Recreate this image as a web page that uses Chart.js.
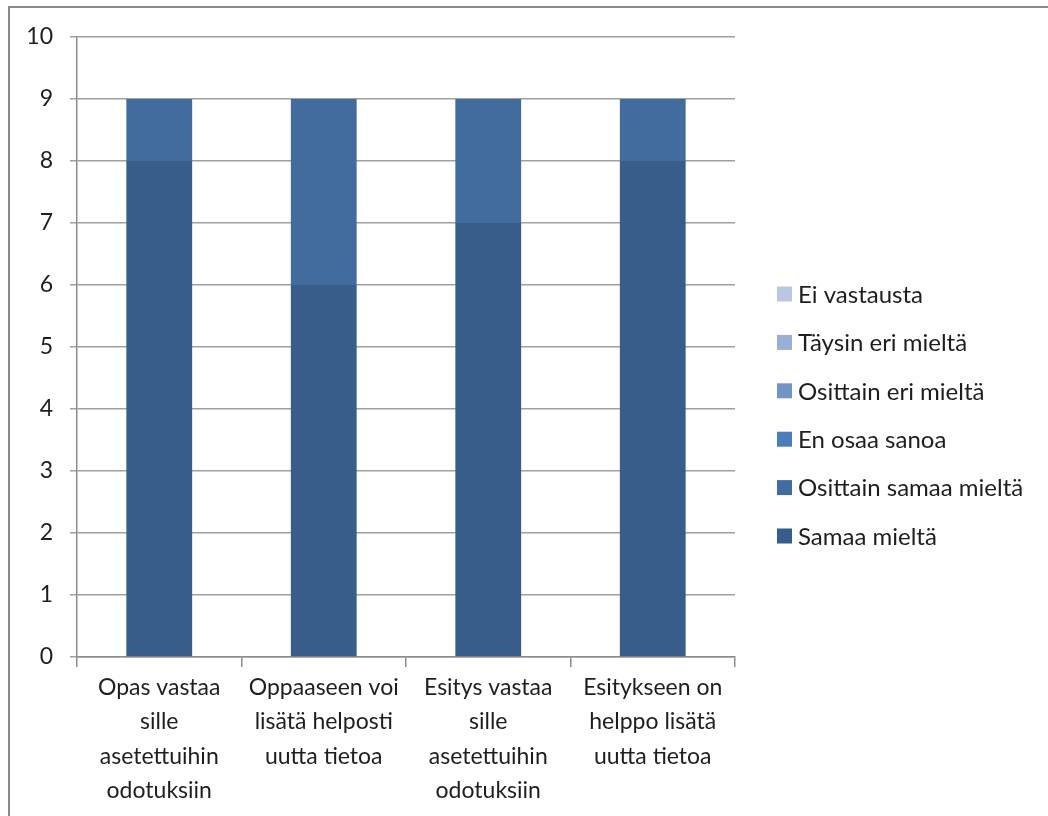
<!DOCTYPE html>
<html>
<head>
<meta charset="utf-8">
<script src="https://cdn.jsdelivr.net/npm/chart.js@4/dist/chart.umd.min.js"></script>
<style>
    html, body { margin: 0; padding: 0; background: #fff; }
    #wrap { position: relative; width: 1048px; height: 816px; overflow: hidden; }
    #frame { position: absolute; left: 8px; top: 6px; width: 1100px; height: 900px;
             border-left: 2px solid #8a8a8a; border-top: 2px solid #8a8a8a; }
    canvas { position: absolute; left: 0; top: 0; }
</style>
</head>
<body>
<div id="wrap">
    <div id="frame"></div>
    <canvas id="kysely" width="1048" height="816"></canvas>
</div>
<script>
const kysymykset = [
    ['Opas vastaa', 'sille', 'asetettuihin', 'odotuksiin'],
    ['Oppaaseen voi', 'lisätä helposti', 'uutta tietoa'],
    ['Esitys vastaa', 'sille', 'asetettuihin', 'odotuksiin'],
    ['Esitykseen on', 'helppo lisätä', 'uutta tietoa']
];
const vastaukset = ['Samaa mieltä', 'Osittain samaa mieltä', 'En osaa sanoa',
    'Osittain eri mieltä', 'Täysin eri mieltä', 'Ei vastausta'];
const samaa = [8, 6, 7, 8];
const osittainSamaa = [1, 3, 2, 1];
const enOsaa = [0, 0, 0, 0];
const osittainEri = [0, 0, 0, 0];
const taysinEri = [0, 0, 0, 0];
const eiVastausta = [0, 0, 0, 0];
const yTicks = [0, 1, 2, 3, 4, 5, 6, 7, 8, 9, 10];

const varit = ['#385d8a', '#426c9e', '#4a7ebb', '#7392c8', '#9aafd5', '#bac7e0'];
const arvot = [samaa, osittainSamaa, enOsaa, osittainEri, taysinEri, eiVastausta];
const fontti = 'Lato, "Open Sans", sans-serif';

// selite piirretään itse oikealle, käänteisessä järjestyksessä
const selite = {
    id: 'selite',
    afterDraw(chart) {
        const ctx = chart.ctx;
        const sarjat = chart.data.datasets.slice().reverse();
        ctx.save();
        ctx.font = '24px ' + fontti;
        ctx.textBaseline = 'middle';
        sarjat.forEach((ds, i) => {
            const y = 294 + i * 48.4;
            ctx.fillStyle = ds.backgroundColor;
            ctx.fillRect(777, y - 7.5, 15, 15);
            ctx.fillStyle = '#1e1e1e';
            ctx.fillText(ds.label, 798, y + 1);
        });
        ctx.restore();
    }
};

const ctx = document.getElementById('kysely').getContext('2d');
ctx.letterSpacing = '0.5px';

new Chart(ctx, {
    type: 'bar',
    data: {
        labels: kysymykset,
        datasets: vastaukset.map((nimi, i) => ({
            label: nimi,
            data: arvot[i],
            backgroundColor: varit[i],
            borderWidth: 0,
            barPercentage: 0.4,
            categoryPercentage: 1
        }))
    },
    options: {
        responsive: false,
        animation: false,
        layout: { padding: { left: 0, top: 37, right: 313, bottom: 0 } },
        plugins: {
            legend: { display: false },
            tooltip: { enabled: false }
        },
        scales: {
            x: {
                stacked: true,
                afterFit: s => { s.height = 159; },
                grid: { offset: true, drawOnChartArea: false, tickLength: 10, color: '#8c8c8c', lineWidth: 1.5 },
                border: { color: '#8c8c8c', width: 1.5 },
                ticks: {
                    color: '#1e1e1e',
                    maxRotation: 0,
                    padding: 3,
                    font: { family: fontti, size: 23, lineHeight: 1.5 }
                }
            },
            y: {
                stacked: true,
                min: 0,
                max: 10,
                afterFit: s => { s.width = 77; },
                afterBuildTicks: s => { s.ticks = yTicks.map(v => ({ value: v })); },
                grid: { color: '#a0a0a0', lineWidth: 1.5, tickLength: 7 },
                border: { color: '#8c8c8c', width: 1.5 },
                ticks: {
                    color: '#1e1e1e',
                    padding: 17,
                    font: { family: fontti, size: 23 }
                }
            }
        }
    },
    plugins: [selite]
});
</script>
</body>
</html>
